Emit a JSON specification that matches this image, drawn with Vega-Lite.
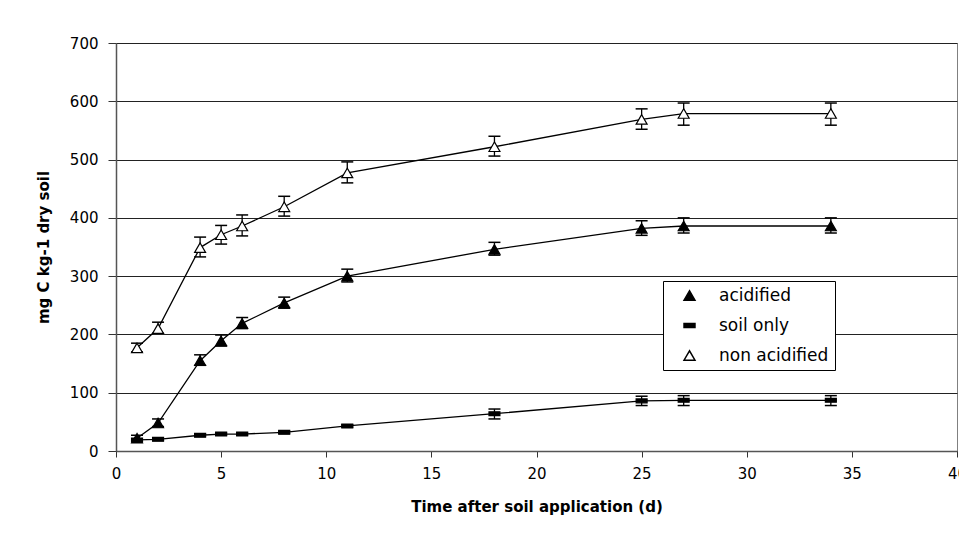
{
  "$schema": "https://vega.github.io/schema/vega-lite/v6.json",
  "width": 841,
  "height": 408,
  "autosize": {"type": "none"},
  "padding": {"left": 116, "top": 43, "right": 2, "bottom": 83},
  "background": "white",
  "config": {
    "font": "DejaVu Sans",
    "view": {"stroke": "#808080", "strokeWidth": 1},
    "axis": {
      "labelFont": "DejaVu Sans",
      "labelFontSize": 15,
      "labelColor": "black",
      "titleFont": "DejaVu Sans",
      "titleFontSize": 15,
      "titleFontWeight": "bold",
      "titleColor": "black",
      "domainColor": "#555",
      "domainWidth": 1.5,
      "tickColor": "#333",
      "tickWidth": 1
    }
  },
  "data": {
    "values": [
      {"t": 1, "v": 22, "lo": 18, "hi": 27, "s": "acidified"},
      {"t": 2, "v": 48, "lo": 42, "hi": 55, "s": "acidified"},
      {"t": 4, "v": 155, "lo": 147, "hi": 165, "s": "acidified"},
      {"t": 5, "v": 189, "lo": 180, "hi": 199, "s": "acidified"},
      {"t": 6, "v": 219, "lo": 210, "hi": 229, "s": "acidified"},
      {"t": 8, "v": 254, "lo": 245, "hi": 264, "s": "acidified"},
      {"t": 11, "v": 300, "lo": 290, "hi": 312, "s": "acidified"},
      {"t": 18, "v": 346, "lo": 336, "hi": 358, "s": "acidified"},
      {"t": 25, "v": 382, "lo": 370, "hi": 395, "s": "acidified"},
      {"t": 27, "v": 386, "lo": 374, "hi": 400, "s": "acidified"},
      {"t": 34, "v": 386, "lo": 374, "hi": 400, "s": "acidified"},
      {"t": 1, "v": 19, "lo": 17, "hi": 21, "s": "soil only"},
      {"t": 2, "v": 20, "lo": 18, "hi": 22, "s": "soil only"},
      {"t": 4, "v": 27, "lo": 25, "hi": 29, "s": "soil only"},
      {"t": 5, "v": 29, "lo": 27, "hi": 31, "s": "soil only"},
      {"t": 6, "v": 29, "lo": 27, "hi": 31, "s": "soil only"},
      {"t": 8, "v": 32, "lo": 30, "hi": 34, "s": "soil only"},
      {"t": 11, "v": 43, "lo": 41, "hi": 45, "s": "soil only"},
      {"t": 18, "v": 64, "lo": 55, "hi": 72, "s": "soil only"},
      {"t": 25, "v": 86, "lo": 78, "hi": 94, "s": "soil only"},
      {"t": 27, "v": 87, "lo": 78, "hi": 95, "s": "soil only"},
      {"t": 34, "v": 87, "lo": 78, "hi": 95, "s": "soil only"},
      {"t": 1, "v": 177, "lo": 170, "hi": 185, "s": "non acidified"},
      {"t": 2, "v": 210, "lo": 202, "hi": 221, "s": "non acidified"},
      {"t": 4, "v": 349, "lo": 333, "hi": 367, "s": "non acidified"},
      {"t": 5, "v": 371, "lo": 355, "hi": 387, "s": "non acidified"},
      {"t": 6, "v": 386, "lo": 369, "hi": 405, "s": "non acidified"},
      {"t": 8, "v": 419, "lo": 403, "hi": 437, "s": "non acidified"},
      {"t": 11, "v": 477, "lo": 460, "hi": 496, "s": "non acidified"},
      {"t": 18, "v": 522, "lo": 506, "hi": 540, "s": "non acidified"},
      {"t": 25, "v": 569, "lo": 552, "hi": 587, "s": "non acidified"},
      {"t": 27, "v": 579, "lo": 559, "hi": 597, "s": "non acidified"},
      {"t": 34, "v": 579, "lo": 559, "hi": 597, "s": "non acidified"}
    ]
  },
  "encoding": {
    "x": {
      "field": "t",
      "type": "quantitative",
      "scale": {"domain": [0, 40], "nice": false},
      "axis": {
        "title": "Time after soil application (d)",
        "values": [0, 5, 10, 15, 20, 25, 30, 35, 40],
        "grid": false,
        "tickSize": 6,
        "labelPadding": 9,
        "titlePadding": 18,
        "labelFlush": false,
        "labelOverlap": false
      }
    }
  },
  "layer": [
    {
      "mark": {"type": "line", "color": "black", "strokeWidth": 1.3},
      "encoding": {
        "y": {
          "field": "v",
          "type": "quantitative",
          "scale": {"domain": [0, 700], "nice": false},
          "axis": {
            "title": "mg C kg-1 dry soil",
            "values": [0, 100, 200, 300, 400, 500, 600, 700],
            "grid": true,
            "gridColor": "#222",
            "gridWidth": 1,
            "tickSize": 8,
            "labelPadding": 10,
            "titlePadding": 18
          }
        },
        "detail": {"field": "s"}
      }
    },
    {
      "mark": {"type": "rule", "color": "black", "strokeWidth": 1.3},
      "encoding": {
        "y": {"field": "lo", "type": "quantitative"},
        "y2": {"field": "hi"}
      }
    },
    {
      "mark": {"type": "tick", "color": "black", "orient": "horizontal", "size": 12, "thickness": 1.5, "opacity": 1},
      "encoding": {"y": {"field": "lo", "type": "quantitative"}}
    },
    {
      "mark": {"type": "tick", "color": "black", "orient": "horizontal", "size": 12, "thickness": 1.5, "opacity": 1},
      "encoding": {"y": {"field": "hi", "type": "quantitative"}}
    },
    {
      "mark": {"type": "point", "filled": true, "stroke": "black", "strokeWidth": 1.2, "opacity": 1, "size": 120},
      "encoding": {
        "y": {"field": "v", "type": "quantitative"},
        "shape": {
          "field": "s",
          "type": "nominal",
          "scale": {
            "domain": ["acidified", "soil only", "non acidified"],
            "range": ["triangle-up", "M-1,-0.35H1V0.35H-1Z", "triangle-up"]
          },
          "legend": {
            "title": null,
            "orient": "none",
            "legendX": 547,
            "legendY": 238,
            "padding": 6,
            "strokeColor": "black",
            "fillColor": "white",
            "cornerRadius": 0,
            "symbolSize": 120,
            "symbolOffset": 12,
            "labelOffset": 21,
            "rowPadding": 12,
            "labelFont": "DejaVu Sans",
            "labelFontSize": 17,
            "labelColor": "black",
            "encode": {
              "symbols": {
                "fill": {"value": {"expr": "datum.value === 'non acidified' ? 'white' : 'black'"}},
                "stroke": {"value": "black"},
                "strokeWidth": {"value": 1.2},
                "opacity": {"value": 1}
              }
            }
          }
        },
        "fill": {
          "field": "s",
          "type": "nominal",
          "scale": {
            "domain": ["acidified", "soil only", "non acidified"],
            "range": ["black", "black", "white"]
          },
          "legend": null
        }
      }
    }
  ]
}
